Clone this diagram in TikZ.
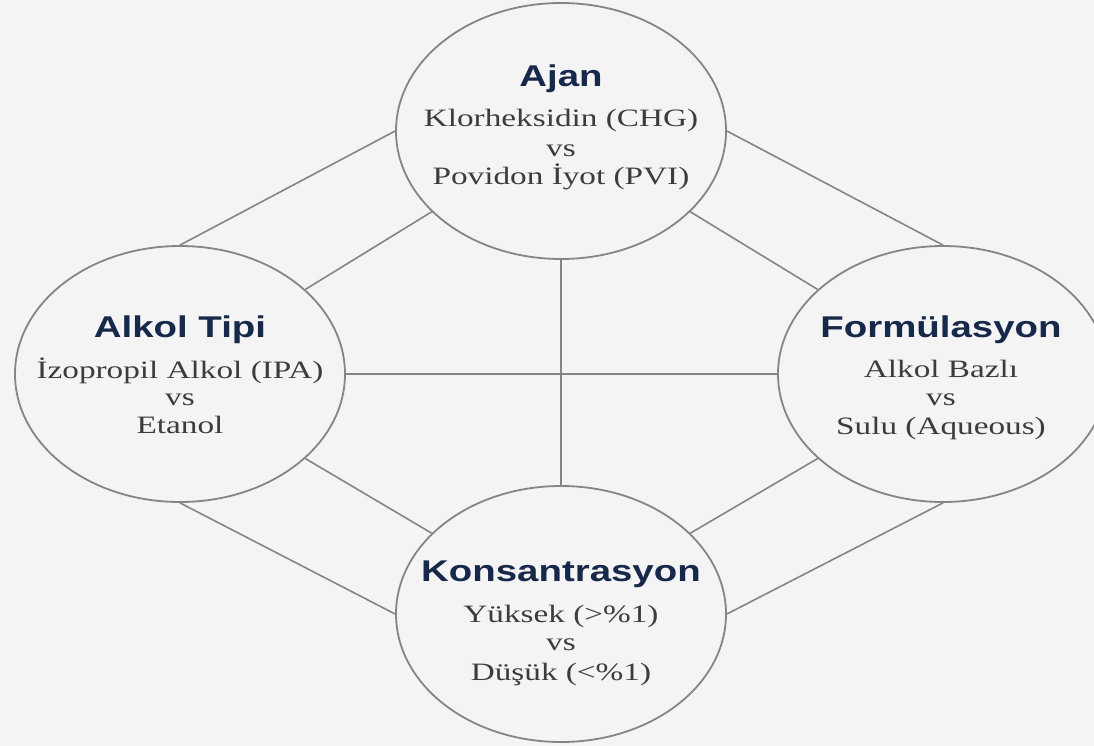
\documentclass[tikz,border=0pt]{standalone}
\usepackage{fontspec}
\setmainfont{Liberation Serif}[FakeStretch=1.33]
\newfontfamily\titlefont{Liberation Sans}[FakeStretch=1.28]
\usetikzlibrary{shapes.geometric}
\definecolor{bg}{HTML}{F4F4F4}
\definecolor{edge}{HTML}{858585}
\definecolor{navy}{HTML}{17294A}
\definecolor{bodyc}{HTML}{3C3C3C}
\begin{document}
\begin{tikzpicture}[x=1pt,y=-1pt,
  bubble/.style={ellipse, draw=edge, line width=1.8pt, fill=bg, minimum width=330pt, minimum height=256pt, inner sep=0pt},
  link/.style={draw=edge, line width=1.6pt},
  ttl/.style={anchor=base, text=navy, font=\titlefont\bfseries\fontsize{30}{36}\selectfont, inner sep=0pt},
  bodytext/.style={anchor=base, text=bodyc, font=\fontsize{25}{30}\selectfont, inner sep=0pt}]
\fill[bg] (0,0) rectangle (1094,746);
\useasboundingbox (0,0) rectangle (1094,746);
% ellipses
\node[bubble] (top) at (561,131) {};
\node[bubble] (left) at (180,374) {};
\node[bubble] (right) at (943,374) {};
\node[bubble] (bottom) at (561,614) {};
% connectors
\path[link] (top.west) -- (left.north);
\path[link] (top.east) -- (right.north);
\path[link] (bottom.west) -- (left.south);
\path[link] (bottom.east) -- (right.south);
\path[link] (top.212) -- (left.34);
\path[link] (top.328) -- (right.146);
\path[link] (bottom.148) -- (left.326);
\path[link] (bottom.32) -- (right.214);
\path[link] (top.south) -- (bottom.north);
\path[link] (left.east) -- (right.west);
% texts
\node[ttl] (topT) at (561,87) {Ajan};
\node[bodytext] (top1) at (561,127) {Klorheksidin (CHG)};
\node[bodytext] (top2) at (561,157) {vs};
\node[bodytext] (top3) at (561,185) {Povidon İyot (PVI)};
\node[ttl] (leftT) at (180,337) {Alkol Tipi};
\node[bodytext] (left1) at (180,378) {İzopropil Alkol (IPA)};
\node[bodytext] (left2) at (180,405) {vs};
\node[bodytext] (left3) at (180,433) {Etanol};
\node[ttl] (rightT) at (941,337) {Formülasyon};
\node[bodytext] (right1) at (941,377) {Alkol Bazlı};
\node[bodytext] (right2) at (941,405) {vs};
\node[bodytext] (right3) at (941,434) {Sulu (Aqueous)};
\node[ttl] (bottomT) at (561,581) {Konsantrasyon};
\node[bodytext] (bottom1) at (561,622) {Yüksek (>\%1)};
\node[bodytext] (bottom2) at (561,650) {vs};
\node[bodytext] (bottom3) at (561,680) {Düşük (<\%1)};
\end{tikzpicture}
\end{document}
